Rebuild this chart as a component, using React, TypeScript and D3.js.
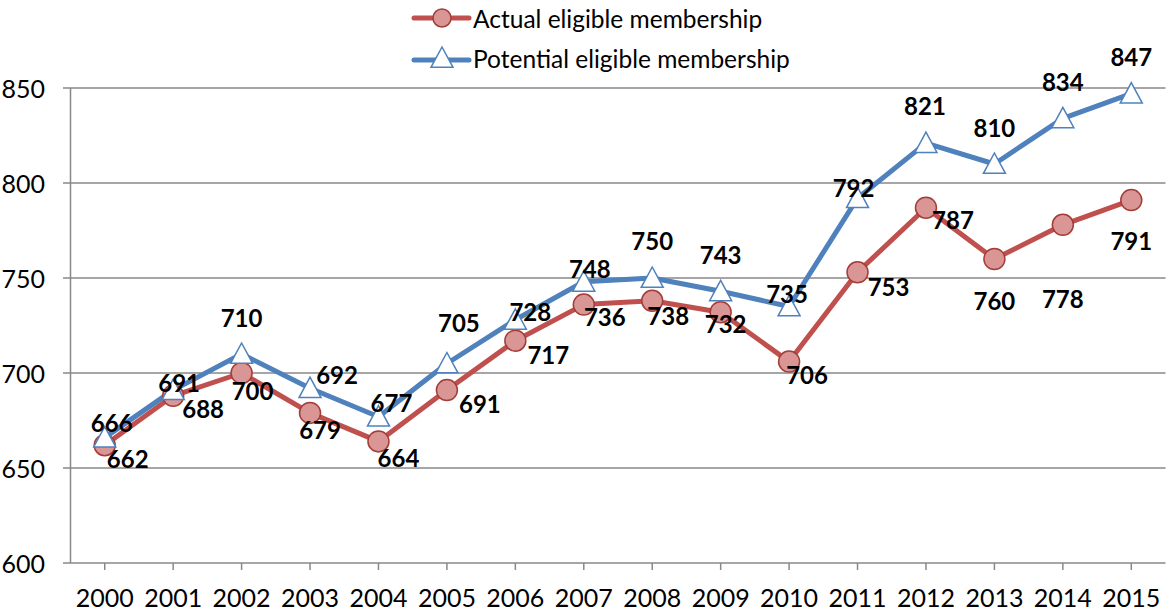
import React from "react";
import * as d3 from "d3";

const years = ["2000","2001","2002","2003","2004","2005","2006","2007","2008","2009","2010","2011","2012","2013","2014","2015"];
const actual = [662,688,700,679,664,691,717,736,738,732,706,753,787,760,778,791];
const potential = [666,691,710,692,677,705,728,748,750,743,735,792,821,810,834,847];
const yTicks = [600,650,700,750,800,850];
const seriesNames = ["Actual eligible membership","Potential eligible membership"];

// label placement offsets (pixels, relative to point)
const actualDx = [23,30,11,10,20,33,33,21,16,5,18,31,27,0,0,0];
const actualDy = [13,13,17,17,16,13,14,12,15,11,13,14,12,41,74,40];
const potentialDx = [7,6,0,27,13,12,15,6,0,0,-2,-4,-1,0,0,0];
const potentialDy = [-15,-8,-37,-14,-14,-41,-8,-13,-38,-37,-13,-11,-38,-37,-37,-37];

const W = 1166, H = 612;
const left = 70.5, right = 1165.5, top = 88, bottom = 563;
const FONT = "Lato, 'Open Sans', sans-serif";

export default function App() {
  const x = d3.scalePoint<string>().domain(years).range([left, right]).padding(0.5);
  const y = d3.scaleLinear().domain([600, 850]).range([bottom, top]);
  const line = d3.line<number>().x((_, i) => x(years[i])!).y(d => y(d));
  const red = "#C0504D", redFill = "#D99694", redStroke = "#A33D3A";
  const blue = "#4F81BD";
  const tri = (cx: number, cy: number) => {
    const s = 11;
    return `M${cx},${cy - s}L${cx + s},${cy + s * 0.85}L${cx - s},${cy + s * 0.85}Z`;
  };
  return (
    <svg width={W} height={H} style={{ position: "absolute", left: 0, top: 0, background: "#fff" }} fontFamily={FONT}>
      <rect x={0} y={0} width={W} height={H} fill="#fff" />
      {yTicks.map(t => (
        <g key={t}>
          <line x1={63} x2={right} y1={y(t)} y2={y(t)} stroke="#888" strokeWidth={1.5} />
          <text x={45} y={y(t)} textAnchor="end" dominantBaseline="central" fontSize={25} fill="#000">{t}</text>
        </g>
      ))}
      <line x1={left} x2={left} y1={top} y2={bottom} stroke="#888" strokeWidth={1.5} />
      {years.map(yr => (
        <g key={yr}>
          <line x1={x(yr)} x2={x(yr)} y1={bottom} y2={bottom + 7} stroke="#888" strokeWidth={1.5} />
          <text x={x(yr)} y={597} textAnchor="middle" dominantBaseline="central" fontSize={25} fill="#000">{yr}</text>
        </g>
      ))}
      <path d={line(actual)!} fill="none" stroke={red} strokeWidth={5} strokeLinejoin="round" />
      <path d={line(potential)!} fill="none" stroke={blue} strokeWidth={5} strokeLinejoin="round" />
      {actual.map((v, i) => (
        <circle key={i} cx={x(years[i])} cy={y(v)} r={10.5} fill={redFill} stroke={redStroke} strokeWidth={1.5} />
      ))}
      {potential.map((v, i) => (
        <path key={i} d={tri(x(years[i])!, y(v))} fill="#fff" stroke={blue} strokeWidth={1.5} />
      ))}
      {actual.map((v, i) => (
        <text key={i} x={x(years[i])! + actualDx[i]} y={y(v) + actualDy[i]} textAnchor="middle" dominantBaseline="central" fontSize={24} fontWeight="bold" fill="#000">{v}</text>
      ))}
      {potential.map((v, i) => (
        <text key={i} x={x(years[i])! + potentialDx[i]} y={y(v) + potentialDy[i]} textAnchor="middle" dominantBaseline="central" fontSize={24} fontWeight="bold" fill="#000">{v}</text>
      ))}
      {/* legend */}
      <g>
        <line x1={414} x2={469} y1={18} y2={18} stroke={red} strokeWidth={5} strokeLinecap="round" />
        <circle cx={442} cy={18} r={9} fill={redFill} stroke={redStroke} strokeWidth={1.5} />
        <text x={473} y={18} dominantBaseline="central" fontSize={24.5} fill="#000">{seriesNames[0]}</text>
        <line x1={414} x2={469} y1={60} y2={60} stroke={blue} strokeWidth={5} strokeLinecap="round" />
        <path d={tri(442, 58)} fill="#fff" stroke={blue} strokeWidth={1.5} />
        <text x={473} y={58} dominantBaseline="central" fontSize={24.5} fill="#000">{seriesNames[1]}</text>
      </g>
    </svg>
  );
}
